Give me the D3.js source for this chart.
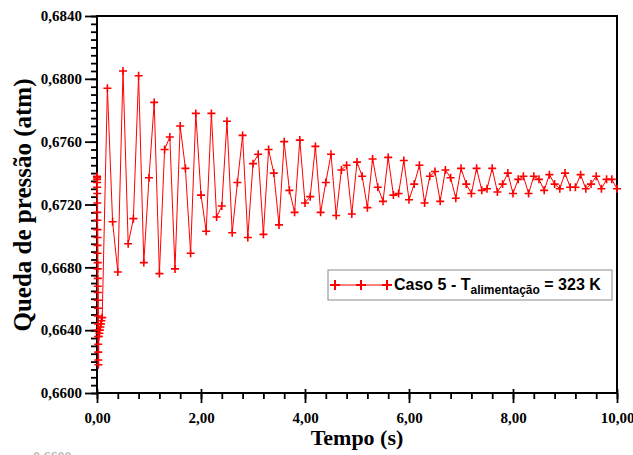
<!DOCTYPE html>
<html>
<head>
    <meta charset="utf-8">
    <title>Queda de pressão</title>
    <script type="text/javascript" src="https://cdn.jsdelivr.net/npm/d3@7"></script>
    <style>
        body { margin: 0; background: #fff; }
        svg text { font-family: "Liberation Serif", "Times New Roman", serif; font-weight: bold; }
    </style>
</head>

<body>

<script type="text/javascript">
    // start-up transient (very small time steps)
    var earlyTime = [0, 0.001, 0.002, 0.003, 0.004, 0.005, 0.006, 0.007, 0.008, 0.009,
        0.010, 0.011, 0.012, 0.013, 0.014, 0.015, 0.016, 0.017, 0.018, 0.019,
        0.020, 0.021, 0.022, 0.023, 0.024, 0.025, 0.026, 0.027,
        0.035, 0.045, 0.055, 0.065, 0.075, 0.085, 0.100];
    var earlyPressure = [0.6738, 0.6737, 0.6736, 0.6734, 0.6731, 0.6727, 0.6721, 0.6715, 0.6710, 0.6704,
        0.6699, 0.6694, 0.6689, 0.6683, 0.6679, 0.6673, 0.6668, 0.6664, 0.6659, 0.6654,
        0.6649, 0.6644, 0.6640, 0.6636, 0.6631, 0.6626, 0.6621, 0.6618,
        0.6636, 0.6638, 0.6640, 0.6642, 0.6644, 0.6646, 0.6648];

    var time = [0.2, 0.3, 0.4, 0.5, 0.6, 0.7, 0.8, 0.9, 1.0,
        1.1, 1.2, 1.3, 1.4, 1.5, 1.6, 1.7, 1.8, 1.9, 2.0,
        2.1, 2.2, 2.3, 2.4, 2.5, 2.6, 2.7, 2.8, 2.9, 3.0,
        3.1, 3.2, 3.3, 3.4, 3.5, 3.6, 3.7, 3.8, 3.9, 4.0,
        4.1, 4.2, 4.3, 4.4, 4.5, 4.6, 4.7, 4.8, 4.9, 5.0,
        5.1, 5.2, 5.3, 5.4, 5.5, 5.6, 5.7, 5.8, 5.9, 6.0,
        6.1, 6.2, 6.3, 6.4, 6.5, 6.6, 6.7, 6.8, 6.9, 7.0,
        7.1, 7.2, 7.3, 7.4, 7.5, 7.6, 7.7, 7.8, 7.9, 8.0,
        8.1, 8.2, 8.3, 8.4, 8.5, 8.6, 8.7, 8.8, 8.9, 9.0,
        9.1, 9.2, 9.3, 9.4, 9.5, 9.6, 9.7, 9.8, 9.9, 10.0];
    var pressure = [0.6794, 0.6709, 0.6677, 0.6805, 0.6695, 0.6711, 0.6802, 0.6683, 0.6737,
        0.6785, 0.6676, 0.6755, 0.6763, 0.6679, 0.6770, 0.6743, 0.6689, 0.6778, 0.6726,
        0.6703, 0.6778, 0.6712, 0.6719, 0.6773, 0.6702, 0.6734, 0.6764, 0.6699, 0.6746,
        0.6752, 0.6701, 0.6755, 0.6740, 0.6707, 0.6760, 0.6729, 0.6715, 0.6761, 0.6721,
        0.6725, 0.6757, 0.6715, 0.6734, 0.6752, 0.6713, 0.6742, 0.6745, 0.6714, 0.6747,
        0.6738, 0.6718, 0.6749, 0.6731, 0.6722, 0.6750, 0.6726, 0.6727, 0.6748, 0.6723,
        0.6733, 0.6745, 0.6721, 0.6738, 0.6741, 0.6722, 0.6742, 0.6737, 0.6724, 0.6743,
        0.6733, 0.6727, 0.6743, 0.6729, 0.6730, 0.6743, 0.6728, 0.6733, 0.6740, 0.6727,
        0.6736, 0.6738, 0.6727, 0.6738, 0.6736, 0.6729, 0.6739, 0.6733, 0.6730, 0.6740,
        0.6731, 0.6731, 0.6739, 0.6730, 0.6733, 0.6738, 0.6730, 0.6736, 0.6736, 0.6730];

    var xTicks = [0, 2, 4, 6, 8, 10];
    var yTicks = [0.6600, 0.6640, 0.6680, 0.6720, 0.6760, 0.6800, 0.6840];

    var width = 633,
        height = 455,
        margin = {top: 16, right: 16, bottom: 62, left: 97},
        red = "#ff0000";

    var data = earlyTime.map(function (t, i) { return {t: t, p: earlyPressure[i]}; })
        .concat(time.map(function (t, i) { return {t: t, p: pressure[i]}; }));

    var x = d3.scaleLinear().domain([0, 10]).range([margin.left, width - margin.right]);
    var y = d3.scaleLinear().domain([0.66, 0.684]).range([height - margin.bottom, margin.top]);

    var comma = function (f) { return function (d) { return d3.format(f)(d).replace(".", ","); }; };

    var svg = d3.select("body").append("svg")
        .attr("width", width)
        .attr("height", height);

    // minor ticks
    var xMinor = d3.axisBottom(x).tickValues(d3.range(0, 10.01, 0.4)).tickSize(6).tickFormat("");
    var yMinor = d3.axisLeft(y).tickValues(d3.range(0.66, 0.68401, 0.0005)).tickSize(6).tickFormat("");

    svg.append("g")
        .attr("transform", "translate(0," + (height - margin.bottom) + ")")
        .call(xMinor);
    svg.append("g")
        .attr("transform", "translate(" + margin.left + ",0)")
        .call(yMinor);

    var xAxis = svg.append("g")
        .attr("transform", "translate(0," + (height - margin.bottom) + ")")
        .call(d3.axisBottom(x).tickValues(xTicks).tickSize(10).tickPadding(9).tickFormat(comma(".2f")));
    var yAxis = svg.append("g")
        .attr("transform", "translate(" + margin.left + ",0)")
        .call(d3.axisLeft(y).tickValues(yTicks).tickSize(12).tickPadding(3).tickFormat(comma(".4f")));

    svg.selectAll(".domain").remove();
    svg.selectAll(".tick line").attr("stroke", "#000").attr("stroke-width", 1.8);
    [xAxis, yAxis].forEach(function (g) {
        g.selectAll("text")
            .attr("fill", "#000")
            .style("font-size", "15px")
            .style("font-family", "'Liberation Serif', serif")
            .style("font-weight", "bold");
    });
    xAxis.selectAll(".tick line").attr("y1", -4);

    // frame
    svg.append("rect")
        .attr("x", margin.left)
        .attr("y", margin.top)
        .attr("width", width - margin.left - margin.right)
        .attr("height", height - margin.top - margin.bottom)
        .attr("fill", "none")
        .attr("stroke", "#000")
        .attr("stroke-width", 2);

    // series
    var line = d3.line()
        .x(function (d) { return x(d.t); })
        .y(function (d) { return y(d.p); });

    svg.append("path")
        .datum(data)
        .attr("fill", "none")
        .attr("stroke", red)
        .attr("stroke-width", 1)
        .attr("d", line);

    svg.append("g")
        .selectAll("path.mark")
        .data(data)
        .enter()
        .append("path")
        .attr("class", "mark")
        .attr("d", function (d) {
            var cx = x(d.t), cy = y(d.p);
            return "M" + (cx - 4) + "," + cy + "H" + (cx + 4) + "M" + cx + "," + (cy - 4) + "V" + (cy + 4);
        })
        .attr("stroke", red)
        .attr("stroke-width", 1.6);

    // axis titles
    svg.append("text")
        .attr("x", (margin.left + width - margin.right) / 2)
        .attr("y", 445)
        .attr("text-anchor", "middle")
        .style("font-size", "22px")
        .text("Tempo (s)");

    svg.append("text")
        .attr("transform", "translate(31," + 205 + ") rotate(-90)")
        .attr("text-anchor", "middle")
        .style("font-size", "25px")
        .text("Queda de pressão (atm)");

    // legend
    var lg = svg.append("g");
    lg.append("rect")
        .attr("x", 328).attr("y", 270)
        .attr("width", 284).attr("height", 30)
        .attr("fill", "#fff")
        .attr("stroke", "#8a8a8a")
        .attr("stroke-width", 1);
    lg.append("line")
        .attr("x1", 334).attr("x2", 388)
        .attr("y1", 285).attr("y2", 285)
        .attr("stroke", red).attr("stroke-width", 1);
    lg.selectAll("path")
        .data([335, 361, 387])
        .enter()
        .append("path")
        .attr("d", function (cx) { return "M" + (cx - 5) + ",285H" + (cx + 5) + "M" + cx + ",280V290"; })
        .attr("stroke", red)
        .attr("stroke-width", 2);
    var lt = lg.append("text")
        .attr("x", 394)
        .attr("y", 290)
        .style("font-family", "'Liberation Sans', Arial, sans-serif")
        .style("font-size", "16px")
        .attr("fill", "#000");
    lt.append("tspan").text("Caso 5 - T");
    lt.append("tspan").attr("dy", 4).style("font-size", "12px").text("alimentação");
    lt.append("tspan").attr("dy", -4).text(" = 323 K");

    // clipped label fragment at the bottom edge
    svg.append("text")
        .attr("x", 33)
        .attr("y", 462)
        .attr("fill", "#bbb")
        .style("font-size", "14px")
        .text("0,6600");
</script>

</body>

</html>
